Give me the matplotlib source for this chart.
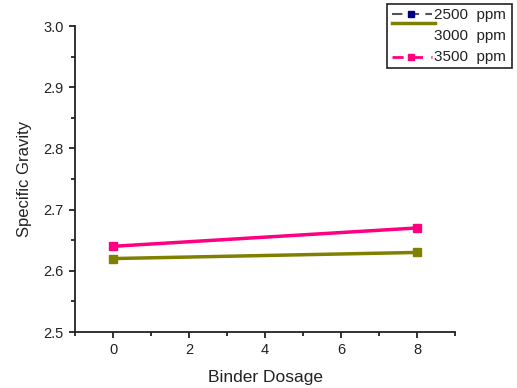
import matplotlib
matplotlib.use("Agg")
import matplotlib.pyplot as plt
from matplotlib.lines import Line2D
from matplotlib.patches import Rectangle
from matplotlib.ticker import MultipleLocator, FormatStrFormatter

plt.rcParams['font.family'] = ['Liberation Sans', 'DejaVu Sans']

x = [0, 8]
s2500 = [2.62, 2.63]
s3000 = [2.62, 2.63]
s3500 = [2.64, 2.67]
labels = ["2500  ppm", "3000  ppm", "3500  ppm"]
colors = ["#000080", "#808000", "#FF0080"]

W, H = 517, 388
fig = plt.figure(figsize=(W / 100, H / 100), dpi=100)
ax = fig.add_axes([75 / W, 1 - 332 / H, (455 - 75) / W, (332 - 26) / H])

ax.plot(x, s2500, color=colors[0], lw=1.2, marker='s', ms=4.5)
ax.plot(x, s3000, color=colors[1], lw=2.5, marker='s', ms=5.5)
ax.plot(x, s3500, color=colors[2], lw=2.5, marker='s', ms=5.5)

ax.set_xlim(-1, 9)
ax.set_ylim(2.5, 3.0)
ax.xaxis.set_major_locator(MultipleLocator(2))
ax.xaxis.set_minor_locator(MultipleLocator(1))
ax.yaxis.set_major_locator(MultipleLocator(0.1))
ax.yaxis.set_minor_locator(MultipleLocator(0.05))
ax.yaxis.set_major_formatter(FormatStrFormatter('%.1f'))
for s in ['top', 'right']:
    ax.spines[s].set_visible(False)
for s in ['left', 'bottom']:
    ax.spines[s].set_linewidth(1.3)
    ax.spines[s].set_color('#222222')
ax.tick_params(which='major', direction='out', length=4, width=1.3,
               labelsize=10.5, colors='#222222', pad=4)
ax.tick_params(which='minor', direction='out', length=3, width=1.3, colors='#222222')
ax.set_xlabel("Binder Dosage", fontsize=12.5, color='#222222', labelpad=9)
ax.set_ylabel("Specific Gravity", fontsize=12, color='#222222', labelpad=8)


def fx(px):
    return px / W


def fy(py):
    return 1 - py / H


# manual legend (mimicking the reference layout)
fig.add_artist(Rectangle((fx(387), fy(68)), fx(512) - fx(387), fy(4) - fy(68),
                         transform=fig.transFigure, fill=False,
                         edgecolor='#222222', lw=1.2))
fig.add_artist(Line2D([fx(392), fx(432)], [fy(14), fy(14)], transform=fig.transFigure,
                      color='#555555', lw=1.5, ls=(0, (5, 3))))
fig.add_artist(Line2D([fx(411)], [fy(14)], transform=fig.transFigure,
                      color=colors[0], marker='s', ms=4.5, ls='none'))
fig.add_artist(Line2D([fx(392), fx(435)], [fy(23), fy(23)], transform=fig.transFigure,
                      color=colors[1], lw=2.5))
fig.add_artist(Line2D([fx(392), fx(432)], [fy(57), fy(57)], transform=fig.transFigure,
                      color=colors[2], lw=2, ls=(0, (4, 3))))
fig.add_artist(Line2D([fx(411)], [fy(57)], transform=fig.transFigure,
                      color=colors[2], marker='s', ms=4.5, ls='none'))
for label, py in zip(labels, [15, 36, 57]):
    fig.text(fx(434), fy(py), label, fontsize=11, color='#222222',
             ha='left', va='center')

fig.savefig("out.png", dpi=100)
